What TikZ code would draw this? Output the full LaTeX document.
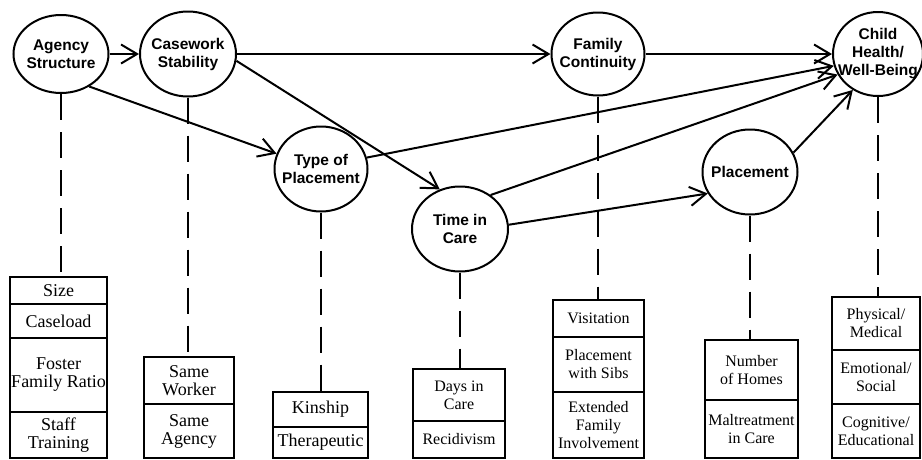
\documentclass[tikz,border=0pt]{standalone}
\usepackage{fontspec}
\setmainfont{Liberation Serif}
\setsansfont{Liberation Sans}
\usetikzlibrary{arrows.meta, positioning, shapes.geometric}

\tikzset{
    factor/.style={draw, ellipse, line width=2pt, inner sep=0pt},
    factortext/.style={align=center, inner sep=0pt, font=\sffamily\bfseries\fontsize{15.5}{18}\selectfont},
    link/.style={line width=2pt, -{Straight Barb[length=16pt, width=19pt]}},
    tie/.style={line width=2pt, dash pattern=on 26pt off 12pt},
    cell/.style={draw, line width=2.2pt, inner sep=0.5pt, outer sep=0pt, align=center, font=\fontsize{16}{18}\selectfont},
    bigcell/.style={cell, font=\fontsize{18}{18}\selectfont}
}

\begin{document}
\begin{tikzpicture}[x=1pt, y=-1pt]
    \useasboundingbox (0, 0) rectangle (922, 459);

    % Factors
    \node[factor, minimum width=95pt, minimum height=78pt] (agency) at (61, 54) {};
    \node[factortext] (agencyT) at (agency) {Agency\\Structure};
    \node[factor, minimum width=96pt, minimum height=85pt] (casework) at (188, 54) {};
    \node[factortext] (caseworkT) at (casework) {Casework\\Stability};
    \node[factor, minimum width=93pt, minimum height=83pt] (family) at (598, 54) {};
    \node[factortext] (familyT) at (family) {Family\\Continuity};
    \node[factor, minimum width=90pt, minimum height=84pt] (child) at (878, 54) {};
    \node[factortext] (childT) at (child) {Child\\Health/\\Well-Being};
    \node[factor, minimum width=93pt, minimum height=85pt] (type) at (321, 169) {};
    \node[factortext] (typeT) at (type) {Type of\\Placement};
    \node[factor, minimum width=96pt, minimum height=85pt] (time) at (460, 229) {};
    \node[factortext] (timeT) at (time) {Time in\\Care};
    \node[factor, minimum width=95pt, minimum height=85pt] (placement) at (750, 172) {};
    \node[factortext] (placementT) at (placement) {Placement};

    % Paths
    \draw[link] (agency) -- (casework);
    \draw[link] (agency.-49) -- (type.161);
    \draw[link] (casework) -- (family);
    \draw[link] (casework.-8) -- (time.117);
    \draw[link] (family) -- (child);
    \draw[link] (type.14) -- (child.195);
    \draw[link] (time.48) -- (child.207);
    \draw[link] (time.5) -- (placement.207);
    \draw[link] (placement.24) -- (child.235);

    % Measures for Agency Structure
    \node[bigcell, minimum width=97pt, minimum height=27pt, anchor=north] (agency0) at (58.5, 277) {Size};
    \node[bigcell, minimum width=97pt, minimum height=34pt, below=0pt of agency0] (agency1) {Caseload};
    \node[bigcell, minimum width=97pt, minimum height=74pt, below=0pt of agency1] (agency2) {Foster\\Family Ratio};
    \node[bigcell, minimum width=97pt, minimum height=46pt, below=0pt of agency2] (agency3) {Staff\\Training};

    % Measures for Casework Stability
    \node[bigcell, minimum width=90pt, minimum height=47pt, anchor=north] (casework0) at (189, 357) {Same\\Worker};
    \node[bigcell, minimum width=90pt, minimum height=54pt, below=0pt of casework0] (casework1) {Same\\Agency};

    % Measures for Type of Placement
    \node[bigcell, minimum width=95pt, minimum height=35pt, anchor=north] (type0) at (320.5, 392) {Kinship};
    \node[bigcell, minimum width=95pt, minimum height=31pt, below=0pt of type0] (type1) {Therapeutic};

    % Measures for Time in Care
    \node[cell, minimum width=92pt, minimum height=52pt, anchor=north] (time0) at (459, 369) {Days in\\Care};
    \node[cell, minimum width=92pt, minimum height=37pt, below=0pt of time0] (time1) {Recidivism};

    % Measures for Family Continuity
    \node[cell, minimum width=91pt, minimum height=37pt, anchor=north] (family0) at (598.5, 300) {Visitation};
    \node[cell, minimum width=91pt, minimum height=55pt, below=0pt of family0] (family1) {Placement\\with Sibs};
    \node[cell, minimum width=91pt, minimum height=66pt, below=0pt of family1] (family2) {Extended\\Family\\Involvement};

    % Measures for Placement
    \node[cell, minimum width=93pt, minimum height=60pt, anchor=north] (placement0) at (751.5, 340) {Number\\of Homes};
    \node[cell, minimum width=93pt, minimum height=58pt, below=0pt of placement0] (placement1) {Maltreatment\\in Care};

    % Measures for Child Health/Well-Being
    \node[cell, minimum width=88pt, minimum height=53pt, anchor=north] (child0) at (876, 297) {Physical/\\Medical};
    \node[cell, minimum width=88pt, minimum height=54pt, below=0pt of child0] (child1) {Emotional/\\Social};
    \node[cell, minimum width=88pt, minimum height=54pt, below=0pt of child1] (child2) {Cognitive/\\Educational};

    % Ties
    \draw[tie] (agency.south) -- (agency.south |- agency0.north);
    \draw[tie] (casework.south) -- (casework.south |- casework0.north);
    \draw[tie] (type.south) -- (type.south |- type0.north);
    \draw[tie] (time.south) -- (time.south |- time0.north);
    \draw[tie] (family.south) -- (family.south |- family0.north);
    \draw[tie] (placement.south) -- (placement.south |- placement0.north);
    \draw[tie] (child.south) -- (child.south |- child0.north);
\end{tikzpicture}
\end{document}
